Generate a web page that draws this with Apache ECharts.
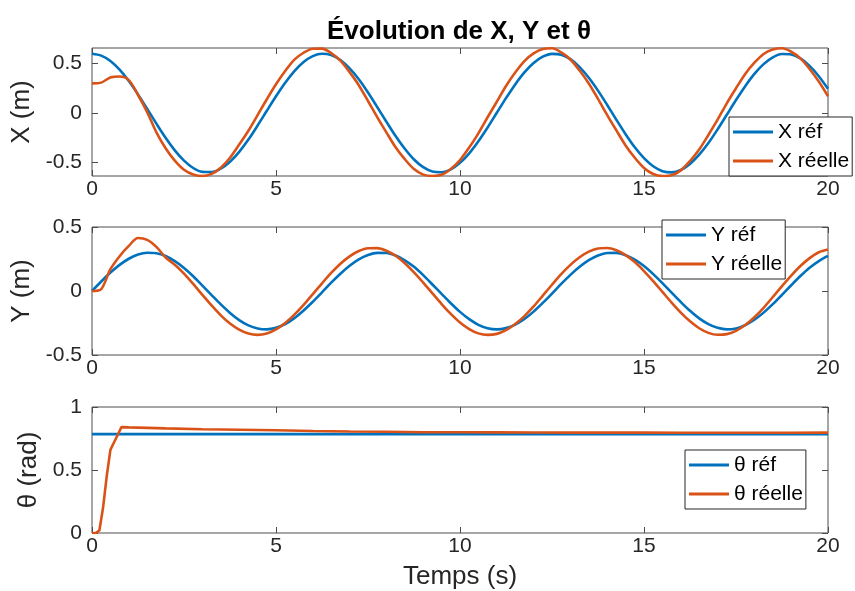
<!DOCTYPE html>
<html>
<head>
<meta charset="utf-8">
<title>Évolution de X, Y et θ</title>
<script src="https://cdn.jsdelivr.net/npm/echarts@6/dist/echarts.min.js"></script>
<style>
  html, body { margin: 0; padding: 0; background: #fff; }
  #chart { width: 855px; height: 591px; }
</style>
</head>
<body>
<div id="chart"></div>
<script>
// Time samples (s) shared by the X and Y traces
const t = [
  0, 0.25, 0.5, 0.75, 1, 1.25, 1.5, 1.75, 2, 2.25, 2.5, 2.75, 3, 3.25, 3.5, 3.75, 4, 4.25, 4.5, 4.75,
  5, 5.25, 5.5, 5.75, 6, 6.25, 6.5, 6.75, 7, 7.25, 7.5, 7.75, 8, 8.25, 8.5, 8.75, 9, 9.25, 9.5, 9.75,
  10, 10.25, 10.5, 10.75, 11, 11.25, 11.5, 11.75, 12, 12.25, 12.5, 12.75, 13, 13.25, 13.5, 13.75, 14, 14.25, 14.5, 14.75,
  15, 15.25, 15.5, 15.75, 16, 16.25, 16.5, 16.75, 17, 17.25, 17.5, 17.75, 18, 18.25, 18.5, 18.75, 19, 19.25, 19.5, 19.75, 20
];

// X reference and measured X (m)
const xRef = [
  0.600, 0.581, 0.527, 0.439, 0.324, 0.189, 0.042, -0.107, -0.250, -0.377, -0.481, -0.555, -0.594, -0.596, -0.562, -0.492, -0.392, -0.268, -0.126, 0.023,
  0.170, 0.307, 0.425, 0.517, 0.576, 0.600, 0.586, 0.536, 0.452, 0.342, 0.208, 0.062, -0.087, -0.232, -0.361, -0.469, -0.547, -0.591, -0.598, -0.569,
  -0.503, -0.407, -0.285, -0.146, 0.003, 0.151, 0.290, 0.411, 0.506, 0.570, 0.599, 0.590, 0.545, 0.465, 0.357, 0.227, 0.082, -0.068, -0.213, -0.346,
  -0.456, -0.538, -0.587, -0.599, -0.575, -0.514, -0.421, -0.303, -0.165, -0.017, 0.132, 0.272, 0.396, 0.495, 0.564, 0.597, 0.593, 0.553, 0.477, 0.373, 0.245
];
const xReal = [
  0.300, 0.308, 0.360, 0.370, 0.333, 0.183, 0.010, -0.195, -0.355, -0.480, -0.572, -0.620, -0.636, -0.615, -0.552, -0.452, -0.318, -0.178, -0.020, 0.140,
  0.292, 0.425, 0.540, 0.610, 0.650, 0.652, 0.607, 0.530, 0.414, 0.282, 0.122, -0.040, -0.195, -0.345, -0.466, -0.566, -0.622, -0.636, -0.624, -0.565,
  -0.475, -0.348, -0.205, -0.042, 0.115, 0.274, 0.410, 0.526, 0.603, 0.648, 0.655, 0.613, 0.542, 0.430, 0.299, 0.143, -0.020, -0.175, -0.327, -0.452,
  -0.555, -0.616, -0.636, -0.628, -0.579, -0.485, -0.369, -0.221, -0.067, 0.099, 0.251, 0.396, 0.509, 0.598, 0.643, 0.655, 0.620, 0.553, 0.446, 0.319, 0.170
];

// Y reference and measured Y (m)
const yRef = [
  0.000, 0.074, 0.144, 0.204, 0.252, 0.285, 0.299, 0.295, 0.273, 0.233, 0.180, 0.115, 0.042, -0.032, -0.105, -0.171, -0.227, -0.269, -0.293, -0.300,
  -0.288, -0.258, -0.212, -0.152, -0.084, -0.010, 0.065, 0.135, 0.197, 0.247, 0.281, 0.298, 0.297, 0.277, 0.240, 0.189, 0.124, 0.051, -0.023, -0.096,
  -0.163, -0.220, -0.264, -0.291, -0.300, -0.290, -0.263, -0.219, -0.161, -0.093, -0.020, 0.055, 0.126, 0.189, 0.241, 0.278, 0.297, 0.298, 0.280, 0.245,
  0.195, 0.132, 0.062, -0.013, -0.086, -0.155, -0.214, -0.259, -0.288, -0.300, -0.293, -0.267, -0.225, -0.169, -0.103, -0.030, 0.045, 0.117, 0.182, 0.234, 0.274
];
const yReal = [
  0.000, 0.015, 0.170, 0.272, 0.352, 0.414, 0.400, 0.345, 0.262, 0.205, 0.136, 0.055, -0.030, -0.113, -0.190, -0.254, -0.302, -0.333, -0.343, -0.332,
  -0.300, -0.250, -0.185, -0.109, -0.024, 0.060, 0.141, 0.213, 0.271, 0.312, 0.334, 0.335, 0.315, 0.275, 0.217, 0.146, 0.066, -0.018, -0.102, -0.179,
  -0.246, -0.297, -0.331, -0.343, -0.335, -0.306, -0.258, -0.196, -0.121, -0.036, 0.049, 0.131, 0.204, 0.264, 0.308, 0.332, 0.336, 0.318, 0.281, 0.226,
  0.156, 0.077, -0.007, -0.091, -0.169, -0.237, -0.291, -0.327, -0.342, -0.337, -0.311, -0.266, -0.205, -0.131, -0.047, 0.038, 0.120, 0.195, 0.257, 0.303, 0.325
];

// Heading: samples (s), reference and measured θ (rad)
const thetaT = [0, 0.1, 0.2, 0.3, 0.4, 0.5, 0.6, 0.7, 0.8, 1, 1.5, 2, 3, 4, 5, 6, 7, 8, 9, 10, 11, 12, 13, 14, 15, 16, 17, 18, 19, 20];
const thetaRef = [0.785, 0.785, 0.785, 0.785, 0.785, 0.785, 0.785, 0.785, 0.785, 0.785, 0.785, 0.785, 0.785, 0.785, 0.785,
                  0.785, 0.785, 0.785, 0.785, 0.785, 0.785, 0.785, 0.785, 0.785, 0.785, 0.785, 0.785, 0.785, 0.785, 0.785];
const thetaReal = [0, 0, 0.02, 0.2, 0.45, 0.66, 0.72, 0.78, 0.84, 0.838, 0.834, 0.830, 0.823, 0.820, 0.815,
                   0.810, 0.806, 0.803, 0.800, 0.800, 0.799, 0.798, 0.797, 0.797, 0.797, 0.796, 0.796, 0.796, 0.796, 0.797];

// Axis ticks
const timeTicks = [0, 5, 10, 15, 20];
const xTicks = [-0.5, 0, 0.5];
const yTicks = [-0.5, 0, 0.5];
const thetaTicks = [0, 0.5, 1];

const FONT = '"Liberation Sans", Arial, Helvetica, sans-serif';
const FRAME = '#4d4d4d';
const TEXT = '#262626';
const BLUE = '#0072BD';
const ORANGE = '#D95319';

const zip = (xs, ys) => xs.map((x, i) => [x, ys[i]]);

const grids = [
  { left: 92, right: 27, top: 48, height: 128 },
  { left: 92, right: 27, top: 227, height: 128 },
  { left: 92, right: 27, top: 407, height: 127 }
];
grids.forEach(g => { g.show = true; g.borderColor = FRAME; g.borderWidth = 1; g.backgroundColor = '#fff'; });

const yRanges = [
  { min: -0.636, max: 0.658, ticks: xTicks, name: 'X (m)', gap: 53 },
  { min: -0.5, max: 0.5, ticks: yTicks, name: 'Y (m)', gap: 53 },
  { min: 0, max: 1, ticks: thetaTicks, name: 'θ (rad)', gap: 46 }
];

const tick = { inside: true, length: 6, lineStyle: { color: FRAME, width: 1 } };

const xAxes = [];
const yAxes = [];
for (let i = 0; i < 3; i++) {
  xAxes.push({
    type: 'value', gridIndex: i, position: 'bottom', min: 0, max: 20,
    axisLine: { show: false, onZero: false }, splitLine: { show: false },
    axisTick: Object.assign({ customValues: timeTicks }, tick),
    axisLabel: { customValues: timeTicks, fontSize: 21, color: TEXT, fontFamily: FONT, margin: 3 },
    name: i === 2 ? 'Temps (s)' : '', nameLocation: 'middle', nameGap: 31,
    nameTextStyle: { fontSize: 26, color: TEXT, fontFamily: FONT }
  });
  const r = yRanges[i];
  yAxes.push({
    type: 'value', gridIndex: i, position: 'left', min: r.min, max: r.max,
    axisLine: { show: false, onZero: false }, splitLine: { show: false },
    axisTick: Object.assign({ customValues: r.ticks }, tick),
    axisLabel: { customValues: r.ticks, fontSize: 21, color: TEXT, fontFamily: FONT, margin: 10 },
    name: r.name, nameLocation: 'middle', nameGap: r.gap, nameRotate: 90,
    nameTextStyle: { fontSize: 26, color: TEXT, fontFamily: FONT }
  });
}
// Mirrored ticks on the top and right edges of each box
for (let i = 0; i < 3; i++) {
  xAxes.push({
    type: 'value', gridIndex: i, position: 'top', min: 0, max: 20,
    axisLine: { show: false, onZero: false }, splitLine: { show: false },
    axisTick: Object.assign({ customValues: timeTicks }, tick),
    axisLabel: { show: false }
  });
  const r = yRanges[i];
  yAxes.push({
    type: 'value', gridIndex: i, position: 'right', min: r.min, max: r.max,
    axisLine: { show: false, onZero: false }, splitLine: { show: false },
    axisTick: Object.assign({ customValues: r.ticks }, tick),
    axisLabel: { show: false }
  });
}

function line(name, idx, data, color) {
  return {
    name, type: 'line', xAxisIndex: idx, yAxisIndex: idx, data,
    showSymbol: false, symbol: 'none', smooth: 0.3,
    lineStyle: { color, width: 2.6 }, itemStyle: { color },
    emphasis: { disabled: true }
  };
}

function legendBox(names, left, top) {
  return {
    data: names, orient: 'vertical', left, top,
    icon: 'rect', itemWidth: 40, itemHeight: 3, itemGap: 7,
    padding: [4, 3, 4, 4],
    backgroundColor: '#fff', borderColor: TEXT, borderWidth: 1,
    selectedMode: false,
    textStyle: { fontSize: 21, color: '#000', fontFamily: FONT, lineHeight: 22 }
  };
}

const chart = echarts.init(document.getElementById('chart'), null, { renderer: 'canvas' });
chart.setOption({
  animation: false,
  backgroundColor: '#fff',
  title: {
    text: 'Évolution de X, Y et θ', left: 322, top: 13,
    textStyle: { fontSize: 26, fontWeight: 'bold', color: '#000', fontFamily: FONT, lineHeight: 28 }
  },
  grid: grids,
  xAxis: xAxes,
  yAxis: yAxes,
  legend: [
    legendBox(['X réf', 'X réelle'], 729, 117),
    legendBox(['Y réf', 'Y réelle'], 662, 220),
    legendBox(['θ réf', 'θ réelle'], 685, 450)
  ],
  series: [
    line('X réf', 0, zip(t, xRef), BLUE),
    line('X réelle', 0, zip(t, xReal), ORANGE),
    line('Y réf', 1, zip(t, yRef), BLUE),
    line('Y réelle', 1, zip(t, yReal), ORANGE),
    Object.assign(line('θ réf', 2, zip(thetaT, thetaRef), BLUE), { smooth: false }),
    Object.assign(line('θ réelle', 2, zip(thetaT, thetaReal), ORANGE), { smooth: false })
  ]
});
</script>
</body>
</html>
